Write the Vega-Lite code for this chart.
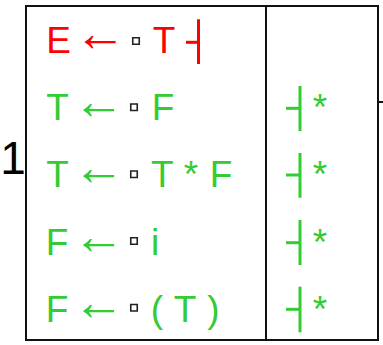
{
  "$schema": "https://vega.github.io/schema/vega-lite/v6.json",
  "width": 383,
  "height": 345,
  "autosize": {"type": "none"},
  "padding": 0,
  "background": "white",
  "config": {"view": {"stroke": null}},
  "datasets": {
    "frame": [{"x": 26, "y": 6, "x2": 378, "y2": 340}],
    "framerules": [
      {"x": 266, "y": 6, "x2": 266, "y2": 340},
      {"x": 378, "y": 102, "x2": 383, "y2": 102}
    ],
    "markers": [
      {"x": 186, "y": 42.3, "x2": 198.5, "y2": 42.3, "role": "start"},
      {"x": 198.5, "y": 19.3, "x2": 198.5, "y2": 64, "role": "start"},
      {"x": 286, "y": 108.3, "x2": 300, "y2": 108.3, "role": "item"},
      {"x": 300, "y": 86, "x2": 300, "y2": 131, "role": "item"},
      {"x": 286, "y": 175, "x2": 300, "y2": 175, "role": "item"},
      {"x": 300, "y": 153, "x2": 300, "y2": 197.7, "role": "item"},
      {"x": 286, "y": 242.7, "x2": 300, "y2": 242.7, "role": "item"},
      {"x": 300, "y": 220, "x2": 300, "y2": 265, "role": "item"},
      {"x": 286, "y": 309.3, "x2": 300, "y2": 309.3, "role": "item"},
      {"x": 300, "y": 286.7, "x2": 300, "y2": 332.3, "role": "item"}
    ],
    "dots": [
      {"x": 136, "y": 41},
      {"x": 134, "y": 107.3},
      {"x": 134, "y": 174.3},
      {"x": 134, "y": 241},
      {"x": 134, "y": 307.7}
    ],
    "tokens": [
      {"t": "E", "x": 58.5, "y": 52.7, "role": "start"},
      {"t": "←", "x": 100, "y": 52.7, "role": "start"},
      {"t": "T", "x": 164, "y": 52.7, "role": "start"},
      {"t": "T", "x": 57.5, "y": 120, "role": "item"},
      {"t": "←", "x": 98.5, "y": 120, "role": "item"},
      {"t": "F", "x": 163, "y": 120, "role": "item"},
      {"t": "*", "x": 320, "y": 120, "role": "item"},
      {"t": "T", "x": 57.5, "y": 186.7, "role": "item"},
      {"t": "←", "x": 98.5, "y": 186.7, "role": "item"},
      {"t": "T", "x": 162.3, "y": 186.7, "role": "item"},
      {"t": "*", "x": 191, "y": 186.7, "role": "item"},
      {"t": "F", "x": 221, "y": 186.7, "role": "item"},
      {"t": "*", "x": 320, "y": 186.7, "role": "item"},
      {"t": "F", "x": 57, "y": 255, "role": "item"},
      {"t": "←", "x": 98.5, "y": 255, "role": "item"},
      {"t": "i", "x": 155, "y": 255, "role": "item"},
      {"t": "*", "x": 320, "y": 255, "role": "item"},
      {"t": "F", "x": 57, "y": 321.7, "role": "item"},
      {"t": "←", "x": 98.5, "y": 321.7, "role": "item"},
      {"t": "(", "x": 157, "y": 321.7, "role": "item"},
      {"t": "T", "x": 185, "y": 321.7, "role": "item"},
      {"t": ")", "x": 213.5, "y": 321.7, "role": "item"},
      {"t": "*", "x": 320, "y": 321.7, "role": "item"}
    ],
    "labels": [{"t": "1", "x": 13, "y": 174}]
  },
  "encoding": {
    "x": {"field": "x", "type": "quantitative", "scale": {"domain": [0, 383], "nice": false, "zero": false}, "axis": null},
    "y": {"field": "y", "type": "quantitative", "scale": {"domain": [0, 345], "nice": false, "zero": false, "reverse": true}, "axis": null}
  },
  "layer": [
    {
      "data": {"name": "frame"},
      "mark": {"type": "rect", "fillOpacity": 0, "stroke": "#111111", "strokeWidth": 2},
      "encoding": {"x2": {"field": "x2"}, "y2": {"field": "y2"}}
    },
    {
      "data": {"name": "framerules"},
      "mark": {"type": "rule", "stroke": "#111111", "strokeWidth": 2},
      "encoding": {"x2": {"field": "x2"}, "y2": {"field": "y2"}}
    },
    {
      "data": {"name": "markers"},
      "mark": {"type": "rule", "strokeWidth": 3},
      "encoding": {
        "x2": {"field": "x2"},
        "y2": {"field": "y2"},
        "color": {"field": "role", "type": "nominal", "scale": {"domain": ["start", "item"], "range": ["#ff0000", "#33cc33"]}, "legend": null}
      }
    },
    {
      "data": {"name": "dots"},
      "mark": {"type": "point", "shape": "square", "size": 42, "filled": false, "stroke": "#222222", "strokeWidth": 1.6, "fill": "white", "opacity": 1}
    },
    {
      "data": {"name": "tokens"},
      "transform": [{"filter": "datum.t !== '←'"}],
      "mark": {"type": "text", "font": "Liberation Sans", "fontSize": 37, "align": "center", "baseline": "alphabetic"},
      "encoding": {
        "text": {"field": "t"},
        "color": {"field": "role", "type": "nominal", "scale": {"domain": ["start", "item"], "range": ["#ff0000", "#33cc33"]}, "legend": null}
      }
    },
    {
      "data": {"name": "tokens"},
      "transform": [{"filter": "datum.t === '←'"}],
      "mark": {"type": "text", "font": "Liberation Sans", "fontSize": 52, "align": "center", "baseline": "alphabetic", "dy": -1.5},
      "encoding": {
        "text": {"field": "t"},
        "color": {"field": "role", "type": "nominal", "scale": {"domain": ["start", "item"], "range": ["#ff0000", "#33cc33"]}, "legend": null}
      }
    },
    {
      "data": {"name": "labels"},
      "mark": {"type": "text", "font": "Liberation Sans", "fontSize": 46, "align": "center", "baseline": "alphabetic", "color": "#000000"},
      "encoding": {"text": {"field": "t"}}
    }
  ]
}
